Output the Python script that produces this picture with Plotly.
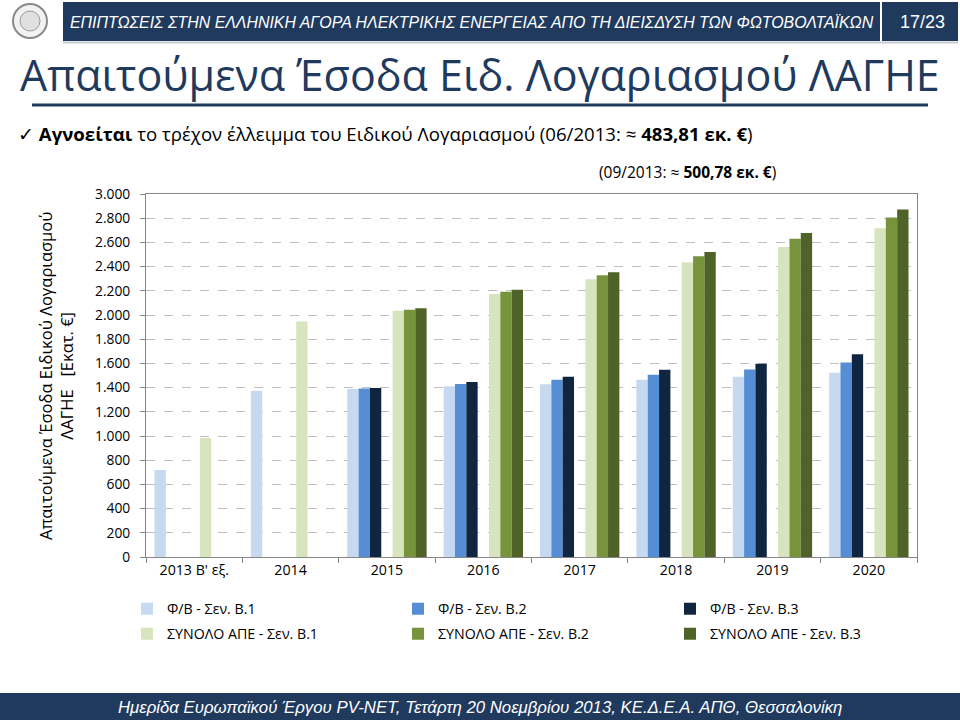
import plotly.graph_objects as go

# ---------------- data ----------------
categories = ["2013 Β' εξ.", "2014", "2015", "2016", "2017", "2018", "2019", "2020"]

pv_b1 = [720, 1375, 1389, 1411, 1428, 1464, 1489, 1522]
pv_b2 = [None, None, 1392, 1430, 1464, 1506, 1550, 1608]
pv_b3 = [None, None, 1397, 1446, 1489, 1547, 1597, 1675]
res_b1 = [984, 1946, 2036, 2173, 2296, 2436, 2561, 2717]
res_b2 = [None, None, 2044, 2192, 2328, 2486, 2631, 2806]
res_b3 = [None, None, 2055, 2209, 2353, 2520, 2678, 2872]

series_names = [
    "Φ/Β - Σεν. Β.1", "Φ/Β - Σεν. Β.2", "Φ/Β - Σεν. Β.3",
    "ΣΥΝΟΛΟ ΑΠΕ - Σεν. Β.1", "ΣΥΝΟΛΟ ΑΠΕ - Σεν. Β.2", "ΣΥΝΟΛΟ ΑΠΕ - Σεν. Β.3",
]
y_ticks = list(range(0, 3001, 200))

# ---------------- styling ----------------
colors = ["#C6D9F1", "#558ED5", "#10253F", "#D7E4BD", "#77933C", "#4F6228"]
NAVY = "#203A5E"
FONT = "Open Sans"
HFONT = "Liberation Sans"

L, R, T, B = 146, 917, 194, 557
W, H = R - L, B - T


def px(x):
    return (x - L) / W


def py(y):
    return (B - y) / H


# slot layout: 7 slots per category (middle one empty), gap = 1.5 bar widths
bw = 1 / 8.5
slot_offsets = [-3.5 * bw + i * bw for i in range(7)]
series_vals = [pv_b1, pv_b2, pv_b3, res_b1, res_b2, res_b3]
series_slots = [0, 1, 2, 4, 5, 6]

legend_ids = ["legend", "legend2", "legend3", "legend4", "legend5", "legend6"]
legend_x = [127, 398, 670]
legend_y = [593, 618]

fig = go.Figure()
for i, (vals, slot) in enumerate(zip(series_vals, series_slots)):
    fig.add_trace(go.Bar(
        x=categories, y=vals, name=series_names[i],
        marker=dict(color=colors[i], line=dict(width=0)),
        offset=slot_offsets[slot], width=bw,
        legend=legend_ids[i],
    ))

legends = {}
for i, lid in enumerate(legend_ids):
    legends[lid] = dict(
        orientation="v", x=px(legend_x[i % 3]), y=py(legend_y[i // 3]),
        xanchor="left", yanchor="top",
        font=dict(size=14.2, family=FONT, color="#000000"),
        bgcolor="rgba(0,0,0,0)", itemclick=False, itemdoubleclick=False,
    )

fig.update_layout(
    width=960, height=720,
    margin=dict(l=L, r=960 - R, t=T, b=720 - B),
    paper_bgcolor="white", plot_bgcolor="white",
    separators=",.",
    barmode="overlay",
    font=dict(family=FONT, size=14, color="#000000"),
    showlegend=True,
    **legends,
)

fig.update_yaxes(
    range=[0, 3000], tickvals=y_ticks, tickformat=",d",
    showgrid=True, gridcolor="#BFBFBF", griddash="dash", gridwidth=1,
    showline=True, linecolor="#868686", linewidth=1, mirror=True,
    ticks="outside", ticklen=5, tickcolor="#868686", ticklabelstandoff=7,
    zeroline=False, tickfont=dict(size=13.8, family=FONT, color="#000000"),
)
fig.update_xaxes(
    type="category", showline=True, linecolor="#868686", linewidth=1, mirror=True,
    ticks="outside", tickson="boundaries", ticklen=5, tickcolor="#868686",
    showgrid=False, tickfont=dict(size=14.2, family=FONT, color="#000000"),
)

shapes = [
    # header bar
    dict(type="rect", xref="paper", yref="paper", x0=px(63), x1=px(958), y0=py(41), y1=py(2),
         fillcolor=NAVY, line=dict(width=0), layer="above"),
    dict(type="line", xref="paper", yref="paper", x0=px(63), x1=px(958), y0=py(42.5), y1=py(42.5),
         line=dict(color="#C8CCD2", width=2)),
    dict(type="line", xref="paper", yref="paper", x0=px(881), x1=px(881), y0=py(2), y1=py(41),
         line=dict(color="white", width=2), layer="above"),
    # logo placeholder
    dict(type="circle", xref="paper", yref="paper", x0=px(13), x1=px(47), y0=py(38), y1=py(4),
         line=dict(color="#8A8A8A", width=2), fillcolor="#F2F2F2"),
    dict(type="circle", xref="paper", yref="paper", x0=px(20), x1=px(40), y0=py(31), y1=py(11),
         line=dict(color="#9A9A9A", width=1), fillcolor="#E0E0E0"),
    # title underline
    dict(type="line", xref="paper", yref="paper", x0=px(32), x1=px(928), y0=py(105), y1=py(105),
         line=dict(color=NAVY, width=3)),
    # footer bar
    dict(type="rect", xref="paper", yref="paper", x0=px(0), x1=px(960), y0=py(720), y1=py(693),
         fillcolor=NAVY, line=dict(width=0)),
]
fig.update_layout(shapes=shapes)

ann = [
    dict(text="<i>ΕΠΙΠΤΩΣΕΙΣ ΣΤΗΝ ΕΛΛΗΝΙΚΗ ΑΓΟΡΑ ΗΛΕΚΤΡΙΚΗΣ ΕΝΕΡΓΕΙΑΣ ΑΠΟ ΤΗ ΔΙΕΙΣΔΥΣΗ ΤΩΝ ΦΩΤΟΒΟΛΤΑΪΚΩΝ</i>",
         x=px(472), y=py(22), xanchor="center", yanchor="middle",
         font=dict(family=HFONT, size=15.9, color="white")),
    dict(text="17/23", x=px(922), y=py(22), xanchor="center", yanchor="middle",
         font=dict(family=HFONT, size=18, color="white")),
    dict(text="Απαιτούμενα Έσοδα Ειδ. Λογαριασμού ΛΑΓΗΕ", x=px(480), y=py(75),
         xanchor="center", yanchor="middle", font=dict(family=FONT, size=43, color=NAVY)),
    dict(text="✓ <b>Αγνοείται</b> το τρέχον έλλειμμα του Ειδικού Λογαριασμού (06/2013: ≈ <b>483,81 εκ. €</b>)",
         x=px(16), y=py(133), xanchor="left", yanchor="middle",
         font=dict(family=FONT, size=18.6, color="#000000")),
    dict(text="(09/2013: ≈ <b>500,78 εκ. €</b>)", x=px(597), y=py(172), xanchor="left", yanchor="middle",
         font=dict(family=FONT, size=15.5, color="#000000")),
    dict(text="Απαιτούμενα Έσοδα Ειδικού Λογαριασμού<br>ΛΑΓΗΕ   [Εκατ. €]", x=px(56), y=py(376),
         xanchor="center", yanchor="middle", textangle=-90,
         font=dict(family=FONT, size=16.5, color="#000000")),
    dict(text="<i>Ημερίδα Ευρωπαϊκού Έργου PV-NET, Τετάρτη 20 Νοεμβρίου 2013, ΚΕ.Δ.Ε.Α. ΑΠΘ, Θεσσαλονίκη</i>",
         x=px(480), y=py(707), xanchor="center", yanchor="middle",
         font=dict(family=HFONT, size=16.8, color="white")),
]
for a in ann:
    a.update(xref="paper", yref="paper", showarrow=False)
fig.update_layout(annotations=ann)

fig.write_html("out.html", config={"displayModeBar": False},
               post_script="document.body.style.margin='0';document.body.style.padding='0';")
